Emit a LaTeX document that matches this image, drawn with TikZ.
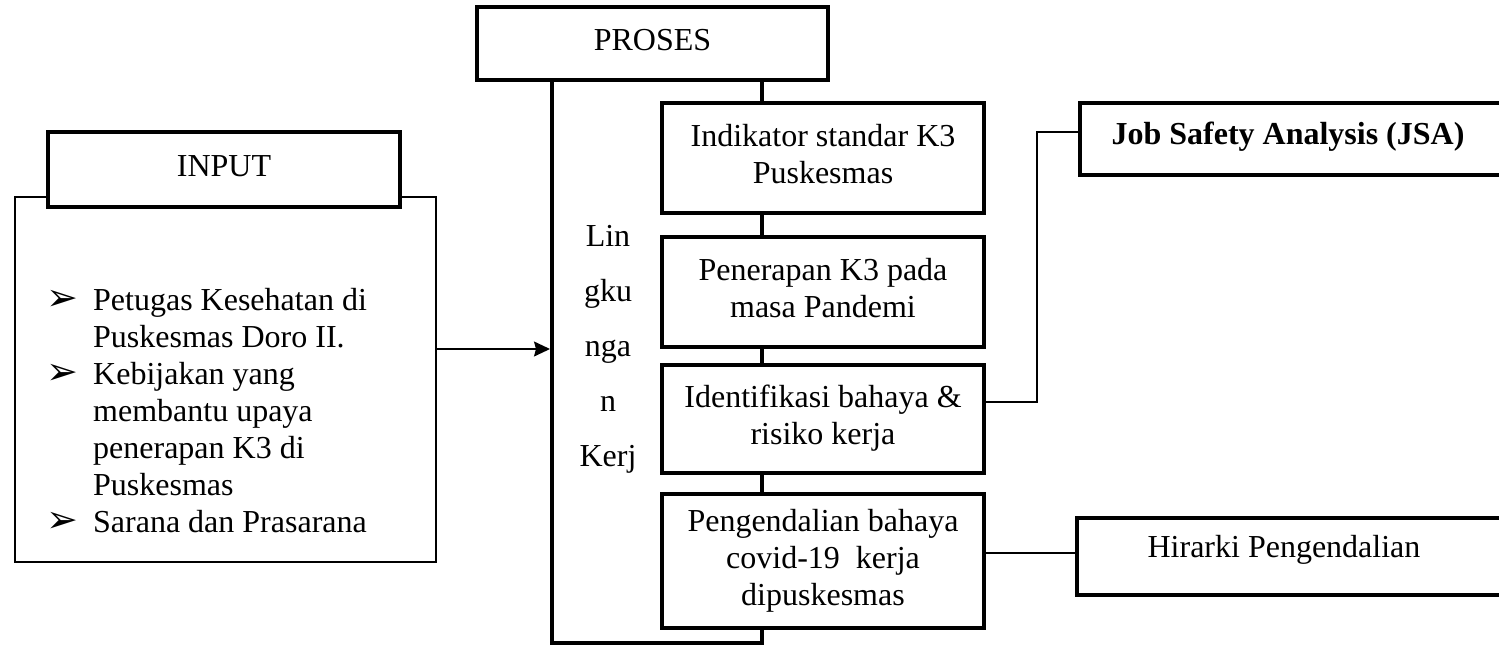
\documentclass[tikz,border=0pt]{standalone}
\usepackage{fontspec}
\setmainfont{Liberation Serif}
\newfontfamily\dejavu{DejaVu Sans}
\usetikzlibrary{arrows.meta}
\newcommand{\boxtxt}[1]{\begin{tabular}{@{}c@{}}#1\end{tabular}}
\newcommand{\bul}{\makebox[45pt][l]{\hspace{-2pt}{\dejavu\fontsize{38}{38}\selectfont ➢}}}
\begin{document}
\begin{tikzpicture}[x=1pt,y=-1pt,
  thickbox/.style={draw, line width=4.2pt, fill=white, inner sep=0pt, font=\fontsize{32}{37}\selectfont},
  thinbox/.style={draw, line width=1.4pt, inner sep=0pt},
  thickline/.style={line width=4.2pt},
  thinline/.style={line width=1.4pt},
  txt/.style={inner sep=0pt, font=\fontsize{32}{37}\selectfont}]
\useasboundingbox (0,0) rectangle (1499,646);
\clip (0,0) rectangle (1499,646);

% INPUT
\node[thinbox, minimum width=421pt, minimum height=365pt] (inbox) at (225.5,379.5) {};
\node[thickbox, minimum width=352pt, minimum height=75pt] (input) at (224,169.5) {\boxtxt{INPUT}};
\node[txt, anchor=base west] (list) at (48,310) {\begin{tabular}[t]{@{}l@{}l@{}}
\bul & Petugas Kesehatan di\\
 & Puskesmas Doro II.\\
\bul & Kebijakan yang\\
 & membantu upaya\\
 & penerapan K3 di\\
 & Puskesmas\\
\bul & Sarana dan Prasarana
\end{tabular}};

% PROSES
\node[thickbox, minimum width=351pt, minimum height=73pt] (proses) at (652.5,43.5) {\boxtxt{PROSES}};
\node[thickbox, minimum width=322pt, minimum height=110pt] (b1) at (823,158) {\boxtxt{Indikator standar K3\\Puskesmas}};
\node[thickbox, minimum width=322pt, minimum height=110pt] (b2) at (823,292) {\boxtxt{Penerapan K3 pada\\masa Pandemi}};
\node[thickbox, minimum width=322pt, minimum height=108pt] (b3) at (823,419) {\boxtxt{Identifikasi bahaya \&\\risiko kerja}};
\node[thickbox, minimum width=322pt, minimum height=134pt] (b4) at (823,561) {\boxtxt{Pengendalian bahaya\\covid-19\ \ kerja\\dipuskesmas}};

\node[txt, anchor=base] (v1) at (608,246) {Lin};
\node[txt, anchor=base] (v2) at (608,301) {gku};
\node[txt, anchor=base] (v3) at (608,356) {nga};
\node[txt, anchor=base] (v4) at (608,411) {n};
\node[txt, anchor=base] (v5) at (608,466) {Kerj};

% right boxes
\node[thickbox, minimum width=430pt, minimum height=72pt] (jsa) at (1295,139) {};
\node[txt, font=\fontsize{32}{37}\selectfont\bfseries] (jsat) at (1288,137) {Job Safety Analysis (JSA)};
\node[thickbox, minimum width=433pt, minimum height=77pt] (hir) at (1293.5,556.5) {};
\node[txt] (hirt) at (1284,550) {Hirarki Pengendalian};

% connectors
\coordinate (stem) at (762,0);
\coordinate (bl) at (552,643);
\coordinate (br) at (762,643);
\coordinate (ain) at (550,349);
\coordinate (j1) at (1037,402);
\coordinate (j2) at (1037,132);
\coordinate (h1) at (1030,553);

\draw[thickline] (proses.south -| bl) -- (bl) -- (br) -- (b4.south -| br);
\draw[thickline] (proses.south -| stem) -- (b1.north -| stem);
\draw[thickline] (b1.south -| stem) -- (b2.north -| stem);
\draw[thickline] (b2.south -| stem) -- (b3.north -| stem);
\draw[thickline] (b3.south -| stem) -- (b4.north -| stem);
\draw[thinline, -{Stealth[length=16pt,width=15pt,inset=2pt]}] (inbox.east |- ain) -- (ain);
\draw[thinline] (b3.east |- j1) -- (j1) -- (j2) -- (jsa.west |- j2);
\draw[thinline] (b4.east |- h1) -- (hir.west |- h1);
\end{tikzpicture}
\end{document}
